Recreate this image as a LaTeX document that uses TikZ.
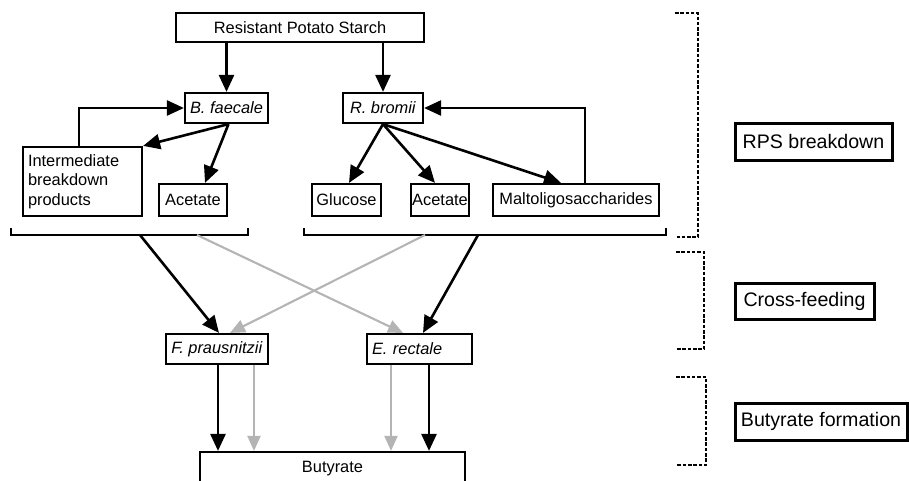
\documentclass[tikz,border=0pt]{standalone}
\usepackage{fontspec}
\setmainfont{Liberation Sans}
\usetikzlibrary{arrows.meta,calc}
\definecolor{gry}{HTML}{B4B4B4}
\begin{document}
\begin{tikzpicture}[x=1pt,y=-1pt,
  bx/.style={draw, line width=2.2pt, inner sep=0pt, minimum height=30pt,
    font=\fontsize{16.4}{19.5}\selectfont},
  lab/.style={draw, line width=3pt, inner sep=0pt, minimum height=36pt,
    font=\fontsize{19.6}{23}\selectfont},
  blk/.style={line width=2.6pt, -{Triangle[length=17pt,width=15pt]}},
  gar/.style={line width=2.1pt, draw=gry, -{Triangle[length=15pt,width=13pt]}, color=gry},
  dsh/.style={line width=1.3pt, dash pattern=on 3.5pt off 1.8pt},
  brk/.style={line width=2.6pt}
]
\path[use as bounding box] (0,0) rectangle (909,480);
\clip (0,0) rectangle (909,480);

% nodes
\node[bx, minimum width=248pt, minimum height=29pt] (rps) at (300,27.5) {Resistant Potato Starch};
\node[bx, minimum width=83pt] (bf) at (226.5,108) {\textit{B. faecale}};
\node[bx, minimum width=80pt] (rb) at (383,108) {\textit{R. bromii}};
\node[bx, minimum width=119pt, minimum height=69pt, text width=109pt, align=left, inner sep=5pt] (inter) at (82.5,181.5) {Intermediate\\breakdown\\products};
\node[bx, minimum width=68pt, minimum height=32pt] (ac1) at (193,200) {Acetate};
\node[bx, minimum width=69pt, minimum height=32pt] (glu) at (346.5,200) {Glucose};
\node[bx, minimum width=58pt, minimum height=32pt] (ac2) at (440,200) {Acetate};
\node[bx, minimum width=166pt, minimum height=32pt] (mal) at (576,200) {Maltoligosaccharides};
\node[bx, minimum width=102pt] (fp) at (217,349) {\textit{F. prausnitzii}};
\node[bx, minimum width=105pt, text width=95pt, align=left, inner sep=5pt, minimum height=30pt] (er) at (419.5,349) {\textit{E. rectale}};
\node[bx, minimum width=265pt, minimum height=34pt] (but) at (332.5,469) {Butyrate};

\node[lab, minimum width=157pt, minimum height=37pt] (l1) at (813.5,141.5) {RPS breakdown};
\node[lab, minimum width=139pt] (l2) at (804.5,301) {Cross-feeding};
\node[lab, minimum width=172pt, minimum height=37pt] (l3) at (821,421.5) {Butyrate formation};

% solid brackets
\coordinate (lba) at (11,228);
\coordinate (lbb) at (248,228);
\coordinate (rba) at (304,228);
\coordinate (rbb) at (666,228);
\draw[brk] (lba) -- ++(0,7) -- ($(lbb)+(0,7)$) -- (lbb);
\draw[brk] (rba) -- ++(0,7) -- ($(rbb)+(0,7)$) -- (rbb);
\coordinate (l1s) at (140,235);
\coordinate (l2s) at (197,235);
\coordinate (r1s) at (425,235);
\coordinate (r2s) at (478,235);

% dashed brackets
\coordinate (d1a) at (675,13);
\coordinate (d1b) at (675,237);
\coordinate (d2a) at (676,252);
\coordinate (d2b) at (676,349);
\coordinate (d3a) at (676,377);
\coordinate (d3b) at (676,465);
\draw[dsh] (d1a) -- ++(23,0) -- ++(0,224) -- (d1b);
\draw[dsh] (d2a) -- ++(28,0) -- ++(0,97) -- (d2b);
\draw[dsh] (d3a) -- ++(30,0) -- ++(0,88) -- (d3b);

% top arrows
\draw[blk] (rps.south -| bf.north) -- (bf.north);
\draw[blk] (rps.south -| rb.north) -- (rb.north);
\draw[blk] ([xshift=2pt]bf.south) -- (inter.north east);
\draw[blk] ([xshift=2pt]bf.south) -- ([xshift=12pt]ac1.north);
\draw[blk] ([xshift=-3.5pt]inter.north) |- (bf.west);
\draw[blk] (rb.south) -- ([xshift=2.5pt]glu.north);
\draw[blk] (rb.south) -- ([xshift=-5pt]ac2.north);
\draw[blk] (rb.south) -- ([xshift=-15pt]mal.north);
\draw[blk] ([xshift=9pt]mal.north) |- (rb.east);

% cross-feeding
\draw[gar] (l2s) -- ([xshift=-16.5pt]er.north);
\draw[gar] (r1s) -- ([xshift=13pt]fp.north);
\draw[blk] (l1s) -- ([xshift=2pt]fp.north);
\draw[blk] (r2s) -- ([xshift=3.5pt]er.north);

% butyrate arrows
\draw[blk] ([xshift=1pt]fp.south) -- ([xshift=1pt]fp.south |- but.north);
\draw[gar] ([xshift=37pt]fp.south) -- ([xshift=37pt]fp.south |- but.north);
\draw[gar] ([xshift=-28.5pt]er.south) -- ([xshift=-28.5pt]er.south |- but.north);
\draw[blk] ([xshift=9.5pt]er.south) -- ([xshift=9.5pt]er.south |- but.north);
\end{tikzpicture}
\end{document}
